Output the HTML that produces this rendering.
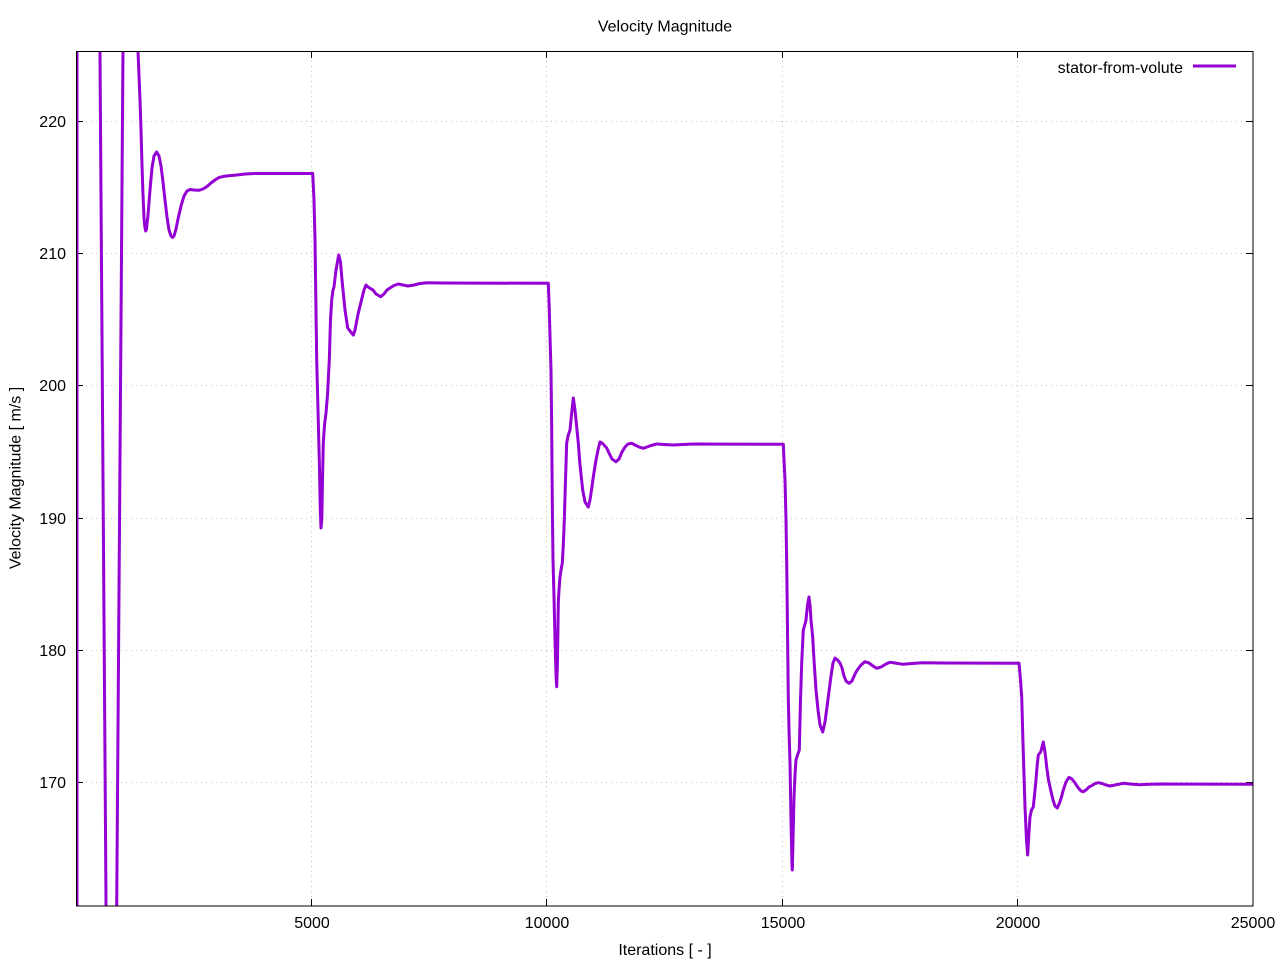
<!DOCTYPE html>
<html>
<head>
<meta charset="utf-8">
<style>
html,body{margin:0;padding:0;background:#fff;}
svg{display:block;}
text{font-family:"Liberation Sans",Arial,sans-serif;font-size:16px;fill:#000;}
</style>
</head>
<body>
<svg width="1280" height="960" viewBox="0 0 1280 960" xmlns="http://www.w3.org/2000/svg">
<defs>
<clipPath id="pa"><rect x="76" y="51" width="1177" height="855"/></clipPath>
</defs>
<rect x="0" y="0" width="1280" height="960" fill="#fff"/>
<!-- grid -->
<g stroke="#c2c2c2" stroke-width="1" stroke-dasharray="1,4" fill="none">
<line x1="76" y1="782.5" x2="1253" y2="782.5"/>
<line x1="76" y1="650.5" x2="1253" y2="650.5"/>
<line x1="76" y1="518.5" x2="1253" y2="518.5"/>
<line x1="76" y1="385.5" x2="1253" y2="385.5"/>
<line x1="76" y1="253.5" x2="1253" y2="253.5"/>
<line x1="76" y1="121.5" x2="1253" y2="121.5"/>
<line x1="311.5" y1="51" x2="311.5" y2="906"/>
<line x1="546.5" y1="51" x2="546.5" y2="906"/>
<line x1="782.5" y1="51" x2="782.5" y2="906"/>
<line x1="1017.5" y1="51" x2="1017.5" y2="906"/>
</g>
<!-- ticks -->
<g stroke="#000" stroke-width="1">
<line x1="76" y1="782.5" x2="83" y2="782.5"/><line x1="1246" y1="782.5" x2="1253" y2="782.5"/>
<line x1="76" y1="650.5" x2="83" y2="650.5"/><line x1="1246" y1="650.5" x2="1253" y2="650.5"/>
<line x1="76" y1="518.5" x2="83" y2="518.5"/><line x1="1246" y1="518.5" x2="1253" y2="518.5"/>
<line x1="76" y1="385.5" x2="83" y2="385.5"/><line x1="1246" y1="385.5" x2="1253" y2="385.5"/>
<line x1="76" y1="253.5" x2="83" y2="253.5"/><line x1="1246" y1="253.5" x2="1253" y2="253.5"/>
<line x1="76" y1="121.5" x2="83" y2="121.5"/><line x1="1246" y1="121.5" x2="1253" y2="121.5"/>
<line x1="311.5" y1="906" x2="311.5" y2="899"/><line x1="311.5" y1="51" x2="311.5" y2="58"/>
<line x1="546.5" y1="906" x2="546.5" y2="899"/><line x1="546.5" y1="51" x2="546.5" y2="58"/>
<line x1="782.5" y1="906" x2="782.5" y2="899"/><line x1="782.5" y1="51" x2="782.5" y2="58"/>
<line x1="1017.5" y1="906" x2="1017.5" y2="899"/><line x1="1017.5" y1="51" x2="1017.5" y2="58"/>
</g>
<!-- data -->
<g clip-path="url(#pa)">
<polyline fill="none" stroke="#9400d3" stroke-width="3" stroke-linejoin="round" stroke-linecap="round" points="
77,1000 77,-100 98.9,-100 106.7,1000 116,1000 124.1,-100 136.9,-100
138,51 140,100 141,130 142,165 143,195 144,218 145,228 145.7,231 146.5,229 148,215 150,190 152,168 154,156 156.7,152 159,156 161,166 163,182 165,200 167,217 169,230 171,236 172.5,237.5 174,236 176,229 178,219 181,206 184,196 187,191 190,189.5 194,190 199,190.3 203,189 207,186.5 211,183 215,180 219,177.5 224,176.3 230,175.6 237,175 245,174 255,173.5 312.7,173.5
314,200 315,240 316.7,360 318,410 319.3,460 320.3,510 321,528 321.8,520 322.5,480 323.3,443 324.5,425 326,413 327.5,395 329.3,360 330.5,320 331.7,300 333,290 334,287 336,270 338.7,255 340.5,262 342,280 343.3,293 345,310 347.7,328 350,331 353.3,335 355,330 356.5,322 358.3,313 361,302 364,290 366,285 368,287 370,288.3 373,290 376,294 380.7,296.7 384,294 387,290 390,288 394,285.5 398.3,284 403,285 408,286 414,285 420,283.5 427,282.7 443,283 548.3,283.3
549.3,310 550,336.7 551,370 551.7,430 552.3,503 553,560 554,597 555,640 556,675 556.7,686.7 557.5,660 558.3,603 559,590 560,577 561,570 562.3,563 563.3,545 564.3,520 565.5,480 566.7,443 568,436 570,430 571.5,415 573.3,398 575,410 576.5,425 578.3,443 580,465 582.7,490 585,502 588.3,507 590,500 591.5,490 593.3,477 596,460 598,450 600,442 602,443 604,445 606.7,448 609,453 612,459 616,461.7 619,459 622,452 625,447 628,444 631.7,443.3 635,445 639,447 643.3,448.3 647,447 651,445.5 656.7,444 664,444.5 673,445 683,444.5 693,444 783.3,444.3
784,460 785,480 786,520 786.7,563 787.5,630 788.3,697 789,730 790,763 791,820 792,865 792.3,870 793,840 794,797 795,775 796,760 797.5,755 799.3,750 800.5,700 801.7,663 803.3,630 805,624 806,620 807.5,605 809,597 810,605 811,620 812.7,637 814,660 816,690 818,710 820,725 822.7,732 825,722 828.3,697 831,676 833,663 835,658 837.5,660 840,663 842,668 844,676 846,681 849,683.3 852,681 855,674 857.3,670 861,665 865,661.7 869,663 873,666 876.7,668.3 881,667 886,664 890,662.3 895,663 903,664.3 912,663.5 923,662.7 940,663 1019,663.3
1020.5,680 1021.7,697 1022.5,725 1023.3,753 1025,807 1026.5,840 1027.7,855 1028.8,835 1030,817 1031.5,810 1033.3,807 1034.5,795 1036,780 1037.2,765 1038.3,755 1040.7,752 1043.3,742 1045,752 1046.7,767 1048.5,780 1050.7,790 1053,800 1055,806 1057.3,808 1059.5,803 1061.5,797 1063.3,790 1066,782 1069,777.3 1072,779 1075,783 1078,787.5 1081,791 1083.3,791.7 1086,790 1089,787 1091.7,785.7 1095,783.5 1098.3,782.7 1102,783.5 1106,785 1110,786 1115,785 1123.3,783.3 1130,784 1140,784.7 1150,784.2 1160,784 1260,784.3"/>
</g>
<!-- border -->
<rect x="76.5" y="51.5" width="1176.5" height="854.5" fill="none" stroke="#000" stroke-width="1"/>
<!-- y tick labels -->
<g text-anchor="end">
<text x="66" y="788">170</text>
<text x="66" y="656">180</text>
<text x="66" y="524">190</text>
<text x="66" y="391">200</text>
<text x="66" y="259">210</text>
<text x="66" y="127">220</text>
</g>
<!-- x tick labels -->
<g text-anchor="middle">
<text x="312" y="928">5000</text>
<text x="547" y="928">10000</text>
<text x="783" y="928">15000</text>
<text x="1018" y="928">20000</text>
<text x="1253" y="928">25000</text>
</g>
<text x="665" y="31.5" text-anchor="middle">Velocity Magnitude</text>
<text x="665" y="955" text-anchor="middle">Iterations [ - ]</text>
<text transform="translate(20.5,478) rotate(-90)" text-anchor="middle">Velocity Magnitude [ m/s ]</text>
<!-- legend -->
<text x="1183" y="73" text-anchor="end">stator-from-volute</text>
<line x1="1193" y1="66" x2="1236" y2="66" stroke="#9400d3" stroke-width="3"/>
</svg>
</body>
</html>
